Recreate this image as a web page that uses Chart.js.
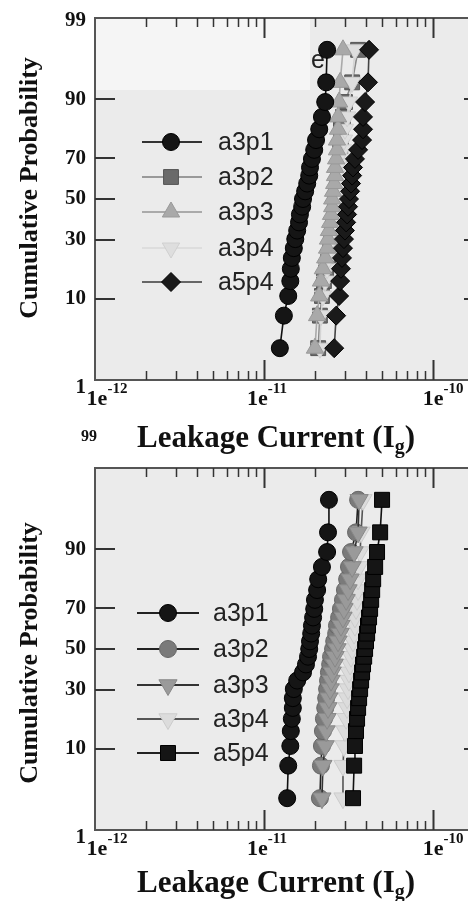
<!DOCTYPE html>
<html>
<head>
<meta charset="utf-8">
<script src="https://cdn.jsdelivr.net/npm/chart.js@4.4.0/dist/chart.umd.min.js"></script>
<style>
html,body{margin:0;padding:0;overflow:hidden;background:#fff;width:468px;height:901px;}
canvas{position:absolute;left:0;}
#c1{top:0;}
#c2{top:425px;}
</style>
</head>
<body>
<canvas id="c1" width="500" height="465"></canvas>
<canvas id="c2" width="500" height="476"></canvas>
<script>
// ---------------- DATA ----------------
const seriesNames = ['a3p1', 'a3p2', 'a3p3', 'a3p4', 'a5p4'];
// cumulative probability (%) of each ranked sample (shared by all series)
const probabilityPct = [2.76, 6.69, 10.63, 14.57, 18.50, 22.44, 26.38, 30.31, 34.25, 38.19, 42.13, 46.06, 50.00,
  53.94, 57.87, 61.81, 65.75, 69.69, 73.62, 77.56, 81.50, 85.43, 89.37, 93.31, 97.24];
const UNIT = 1e-11; // leakage currents below are in units of 1e-11

// top panel
const topA3p1 = [1.24, 1.31, 1.39, 1.43, 1.44, 1.46, 1.50, 1.53, 1.57, 1.61, 1.63, 1.68, 1.70, 1.75, 1.80, 1.85, 1.87, 1.92, 1.98, 2.03, 2.12, 2.20, 2.30, 2.33, 2.36];
const topA3p2 = [2.09, 2.14, 2.20, 2.26, 2.33, 2.39, 2.46, 2.49, 2.53, 2.56, 2.60, 2.63, 2.63, 2.67, 2.70, 2.74, 2.78, 2.82, 2.82, 2.85, 2.85, 2.93, 3.01, 3.32, 3.60];
const topA3p3 = [2.00, 2.06, 2.12, 2.17, 2.23, 2.30, 2.36, 2.39, 2.42, 2.46, 2.49, 2.53, 2.53, 2.56, 2.60, 2.63, 2.63, 2.67, 2.70, 2.70, 2.74, 2.74, 2.78, 2.82, 2.93];
const topA3p4 = [2.14, 2.17, 2.23, 2.30, 2.36, 2.42, 2.49, 2.53, 2.56, 2.60, 2.63, 2.67, 2.70, 2.74, 2.78, 2.82, 2.85, 2.89, 2.93, 2.97, 3.01, 3.10, 3.18, 3.32, 3.45];
const topA5p4 = [2.60, 2.67, 2.78, 2.82, 2.85, 2.89, 2.93, 2.97, 3.01, 3.06, 3.10, 3.14, 3.18, 3.23, 3.27, 3.32, 3.36, 3.45, 3.60, 3.80, 3.85, 3.85, 3.96, 4.12, 4.18];

// bottom panel
const botA3p1 = [1.37, 1.39, 1.43, 1.44, 1.46, 1.48, 1.48, 1.50, 1.57, 1.70, 1.77, 1.82, 1.85, 1.87, 1.90, 1.92, 1.95, 1.98, 2.00, 2.06, 2.09, 2.20, 2.36, 2.39, 2.42];
const botA3p2 = [2.14, 2.17, 2.20, 2.23, 2.26, 2.30, 2.33, 2.36, 2.39, 2.42, 2.46, 2.49, 2.56, 2.60, 2.67, 2.70, 2.78, 2.85, 2.93, 3.01, 3.10, 3.18, 3.27, 3.50, 3.60];
const botA3p3 = [2.20, 2.23, 2.30, 2.33, 2.36, 2.39, 2.42, 2.46, 2.49, 2.53, 2.60, 2.63, 2.70, 2.74, 2.82, 2.85, 2.93, 2.97, 3.06, 3.14, 3.23, 3.32, 3.41, 3.60, 3.65];
const botA3p4 = [2.93, 2.93, 2.97, 3.01, 3.06, 3.10, 3.10, 3.14, 3.18, 3.18, 3.23, 3.27, 3.32, 3.36, 3.41, 3.45, 3.45, 3.50, 3.55, 3.60, 3.60, 3.65, 3.70, 3.75, 3.85];
const botA5p4 = [3.36, 3.41, 3.45, 3.50, 3.55, 3.60, 3.65, 3.70, 3.75, 3.80, 3.85, 3.91, 3.96, 4.01, 4.07, 4.12, 4.18, 4.24, 4.30, 4.36, 4.42, 4.54, 4.66, 4.86, 4.99];

// axes
const xMin = 1e-12, xMax = 2e-10;
const xMajorTicks = [1e-12, 1e-11, 1e-10];
const xTickExponents = ['-12', '-11', '-10'];
const probTicks = [10, 30, 50, 70, 90];
const probLabels = ['1', '10', '30', '50', '70', '90', '99'];
const yTitle = 'Cumulative Probability';
const xTitleMain = 'Leakage Current (I';
const xTitleSub = 'g';

// ---------------- HELPERS ----------------
function probit(p) {
  const a = [-3.969683028665376e+01, 2.209460984245205e+02, -2.759285104469687e+02, 1.383577518672690e+02, -3.066479806614716e+01, 2.506628277459239e+00];
  const b = [-5.447609879822406e+01, 1.615858368580409e+02, -1.556989798598866e+02, 6.680131188771972e+01, -1.328068155288572e+01];
  const c = [-7.784894002430293e-03, -3.223964580411365e-01, -2.400758277161838e+00, -2.549732539343734e+00, 4.374664141464968e+00, 2.938163982698783e+00];
  const d = [7.784695709041462e-03, 3.224671290700398e-01, 2.445134137142996e+00, 3.754408661907416e+00];
  const pl = 0.02425, ph = 1 - pl;
  let q, r;
  if (p < pl) { q = Math.sqrt(-2 * Math.log(p)); return (((((c[0]*q+c[1])*q+c[2])*q+c[3])*q+c[4])*q+c[5]) / ((((d[0]*q+d[1])*q+d[2])*q+d[3])*q+1); }
  if (p <= ph) { q = p - 0.5; r = q*q; return (((((a[0]*r+a[1])*r+a[2])*r+a[3])*r+a[4])*r+a[5])*q / (((((b[0]*r+b[1])*r+b[2])*r+b[3])*r+b[4])*r+1); }
  q = Math.sqrt(-2 * Math.log(1 - p));
  return -(((((c[0]*q+c[1])*q+c[2])*q+c[3])*q+c[4])*q+c[5]) / ((((d[0]*q+d[1])*q+d[2])*q+d[3])*q+1);
}
const SERIF = '"Liberation Serif","Times New Roman",Times,serif';
const SANS = '"Liberation Sans",Arial,Helvetica,sans-serif';

function drawMarker(ctx, shape, rot, x, y, r) {
  ctx.beginPath();
  if (shape === 'circle') ctx.arc(x, y, r, 0, Math.PI * 2);
  else if (shape === 'rect') { const s = r * Math.SQRT1_2; ctx.rect(x - s, y - s, 2 * s, 2 * s); }
  else if (shape === 'rectRot') { ctx.moveTo(x, y - r); ctx.lineTo(x + r, y); ctx.lineTo(x, y + r); ctx.lineTo(x - r, y); ctx.closePath(); }
  else if (shape === 'triangle') {
    let ang = rot * Math.PI / 180;
    for (let k = 0; k < 3; k++) {
      const px = x + Math.sin(ang) * r, py = y - Math.cos(ang) * r;
      if (k) ctx.lineTo(px, py); else ctx.moveTo(px, py);
      ang += 2 * Math.PI / 3;
    }
    ctx.closePath();
  }
  ctx.fill(); ctx.stroke();
}

function makeDatasets(valuesList, styles) {
  return seriesNames.map((name, i) => ({
    label: name,
    data: valuesList[i].map((v, k) => ({ x: v * UNIT, y: probit(probabilityPct[k] / 100) })),
    showLine: true,
    borderColor: styles[i].line,
    borderWidth: 1.6,
    pointStyle: styles[i].shape,
    rotation: styles[i].rot,
    pointRadius: styles[i].r,
    pointBackgroundColor: styles[i].fill,
    pointBorderColor: styles[i].edge,
    pointBorderWidth: 1,
    order: styles[i].order
  }));
}

function decor(cfg) {
  return {
    id: 'decor',
    beforeDraw(chart) {
      const { ctx, chartArea: a } = chart;
      ctx.save();
      ctx.fillStyle = '#ebebeb';
      ctx.fillRect(a.left, a.top, a.right - a.left, a.bottom - a.top);
      if (cfg.patch) {
        ctx.fillStyle = '#f5f5f5';
        ctx.fillRect(a.left, a.top, cfg.patch.w, cfg.patch.h);
      }
      ctx.restore();
    },
    beforeDatasetsDraw(chart) {
      if (!cfg.stray) return;
      const ctx = chart.ctx;
      ctx.save();
      ctx.font = '25px ' + SANS;
      ctx.fillStyle = '#222';
      ctx.textAlign = 'left';
      ctx.textBaseline = 'alphabetic';
      ctx.fillText(cfg.stray.text, cfg.stray.x, cfg.stray.y);
      ctx.restore();
    },
    afterDatasetsDraw(chart) {
      const { ctx, chartArea: a } = chart;
      const xs = chart.scales.x, ys = chart.scales.y;
      ctx.save();
      // frame
      ctx.strokeStyle = '#555';
      ctx.lineWidth = 2;
      ctx.strokeRect(a.left, a.top, a.right - a.left, a.bottom - a.top);
      // x ticks (inward, top and bottom)
      ctx.strokeStyle = '#333';
      xMajorTicks.forEach(dec => {
        for (let m = 1; m <= 9; m++) {
          const v = m * dec;
          if (v <= xMin || v >= xMax) continue;
          const px = Math.round(xs.getPixelForValue(v)) + 0.5;
          const len = m === 1 ? 20 : 9;
          ctx.lineWidth = m === 1 ? 2 : 1.5;
          ctx.beginPath();
          ctx.moveTo(px, a.bottom); ctx.lineTo(px, a.bottom - len);
          ctx.moveTo(px, a.top); ctx.lineTo(px, a.top + len);
          ctx.stroke();
        }
      });
      // y ticks
      ctx.lineWidth = 2;
      probTicks.forEach(p => {
        const py = Math.round(ys.getPixelForValue(probit(p / 100)));
        ctx.beginPath();
        ctx.moveTo(a.left, py); ctx.lineTo(a.left + 20, py);
        ctx.moveTo(a.right, py); ctx.lineTo(a.right - 20, py);
        ctx.stroke();
      });
      // y tick labels
      ctx.fillStyle = '#111';
      ctx.textAlign = 'right';
      ctx.textBaseline = 'middle';
      probLabels.forEach(lab => {
        const py = ys.getPixelForValue(probit(Number(lab) / 100));
        const o = cfg.yLabelAdj[lab] || {};
        ctx.font = 'bold ' + (o.size || 21) + 'px ' + SERIF;
        ctx.fillText(lab, o.xr || 86, py + (o.dy || 0));
      });
      // x tick labels 1e^n
      ctx.textAlign = 'left';
      ctx.textBaseline = 'alphabetic';
      xMajorTicks.forEach((v, i) => {
        const px = xs.getPixelForValue(v);
        ctx.font = 'bold 22px ' + SERIF;
        const w1 = ctx.measureText('1e').width;
        ctx.font = 'bold 15px ' + SERIF;
        const w2 = ctx.measureText(xTickExponents[i]).width;
        const left = px + cfg.xLabelShift[i] - (w1 + w2) / 2;
        ctx.font = 'bold 22px ' + SERIF;
        ctx.fillText('1e', left, a.bottom + 25);
        ctx.font = 'bold 15px ' + SERIF;
        ctx.fillText(xTickExponents[i], left + w1, a.bottom + 13);
      });
      // y title
      ctx.save();
      ctx.translate(cfg.yTitle.x, cfg.yTitle.y);
      ctx.rotate(-Math.PI / 2);
      ctx.font = 'bold 26px ' + SERIF;
      ctx.textAlign = 'center';
      ctx.textBaseline = 'middle';
      ctx.fillText(yTitle, 0, 0);
      ctx.restore();
      // x title with subscript
      ctx.font = 'bold 31px ' + SERIF;
      const wm = ctx.measureText(xTitleMain).width;
      const wp = ctx.measureText(')').width;
      ctx.font = 'bold 20px ' + SERIF;
      const ws = ctx.measureText(xTitleSub).width;
      const tl = cfg.xTitle.cx - (wm + ws + wp) / 2;
      ctx.font = 'bold 31px ' + SERIF;
      ctx.fillText(xTitleMain, tl, cfg.xTitle.y);
      ctx.fillText(')', tl + wm + ws, cfg.xTitle.y);
      ctx.font = 'bold 20px ' + SERIF;
      ctx.fillText(xTitleSub, tl + wm, cfg.xTitle.y + 6);
      // legend
      const L = cfg.legend;
      chart.data.datasets.forEach((ds, i) => {
        const y = L.rows[i];
        const st = cfg.styles[i];
        ctx.strokeStyle = st.legendLine;
        ctx.lineWidth = 2;
        ctx.beginPath();
        ctx.moveTo(L.x0, y); ctx.lineTo(L.x1, y);
        ctx.stroke();
        ctx.fillStyle = st.fill;
        ctx.strokeStyle = st.edge;
        ctx.lineWidth = 1;
        drawMarker(ctx, st.shape, st.rot, L.mx, y, st.lr);
        ctx.fillStyle = '#222';
        ctx.font = '25px ' + SANS;
        ctx.textAlign = 'left';
        ctx.textBaseline = 'middle';
        ctx.fillText(ds.label, L.tx, y + 1);
      });
      ctx.restore();
    }
  };
}

function makeChart(id, valuesList, styles, cfg) {
  const canvas = document.getElementById(id);
  return new Chart(canvas, {
    type: 'scatter',
    data: { datasets: makeDatasets(valuesList, styles) },
    options: {
      responsive: false,
      animation: false,
      devicePixelRatio: 1,
      events: [],
      layout: { padding: cfg.padding },
      plugins: { legend: { display: false }, tooltip: { enabled: false }, title: { display: false } },
      scales: {
        x: { type: 'logarithmic', min: xMin, max: xMax, display: false },
        y: { type: 'linear', min: probit(0.01), max: probit(0.99), display: false }
      }
    },
    plugins: [decor(Object.assign({ styles }, cfg))]
  });
}

// ---------------- TOP PANEL ----------------
const topStyles = [
  { shape: 'circle', rot: 0, r: 8.5, lr: 8.5, fill: '#151515', edge: '#000', line: '#111', legendLine: '#333', order: 2 },
  { shape: 'rect', rot: 0, r: 10.5, lr: 10.5, fill: '#6a6a6a', edge: '#555', line: '#8a8a8a', legendLine: '#999', order: 5 },
  { shape: 'triangle', rot: 0, r: 10, lr: 10, fill: '#a9a9a9', edge: '#999', line: '#aaa', legendLine: '#aaa', order: 3 },
  { shape: 'triangle', rot: 180, r: 10, lr: 10, fill: '#dedede', edge: '#d0d0d0', line: '#d4d4d4', legendLine: '#ddd', order: 4 },
  { shape: 'rectRot', rot: 0, r: 9.5, lr: 9.5, fill: '#1a1a1a', edge: '#000', line: '#444', legendLine: '#666', order: 1 }
];
makeChart('c1', [topA3p1, topA3p2, topA3p3, topA3p4, topA5p4], topStyles, {
  padding: { left: 95, top: 18, right: 16, bottom: 85 },
  patch: { w: 215, h: 72 },
  stray: { text: 'e', x: 311, y: 68 },
  yLabelAdj: { '1': { dy: 8, xr: 86 }, '99': { dy: 3 } },
  xLabelShift: [12, 3, 10],
  yTitle: { x: 30, y: 188 },
  xTitle: { cx: 276, y: 447 },
  legend: { rows: [142, 177, 212, 248, 282], x0: 142, x1: 202, mx: 171, tx: 218 }
});

// ---------------- BOTTOM PANEL ----------------
const botStyles = [
  { shape: 'circle', rot: 0, r: 8.5, lr: 8.5, fill: '#151515', edge: '#000', line: '#111', legendLine: '#222', order: 2 },
  { shape: 'circle', rot: 0, r: 8.5, lr: 8.5, fill: '#7a7a7a', edge: '#666', line: '#222', legendLine: '#222', order: 5 },
  { shape: 'triangle', rot: 180, r: 10.5, lr: 10.5, fill: '#9a9a9a', edge: '#888', line: '#333', legendLine: '#333', order: 3 },
  { shape: 'triangle', rot: 180, r: 10.5, lr: 10.5, fill: '#dcdcdc', edge: '#ccc', line: '#555', legendLine: '#555', order: 4 },
  { shape: 'rect', rot: 0, r: 10.6, lr: 10.6, fill: '#151515', edge: '#000', line: '#111', legendLine: '#222', order: 1 }
];
makeChart('c2', [botA3p1, botA3p2, botA3p3, botA3p4, botA5p4], botStyles, {
  padding: { left: 95, top: 43, right: 16, bottom: 71 },
  yLabelAdj: { '1': { dy: 8, xr: 86 }, '99': { dy: -31, xr: 97, size: 16 } },
  xLabelShift: [12, 3, 10],
  yTitle: { x: 30, y: 228 },
  xTitle: { cx: 276, y: 467 },
  legend: { rows: [188, 224, 260, 294, 328], x0: 137, x1: 199, mx: 168, tx: 213 }
});
</script>
</body>
</html>
